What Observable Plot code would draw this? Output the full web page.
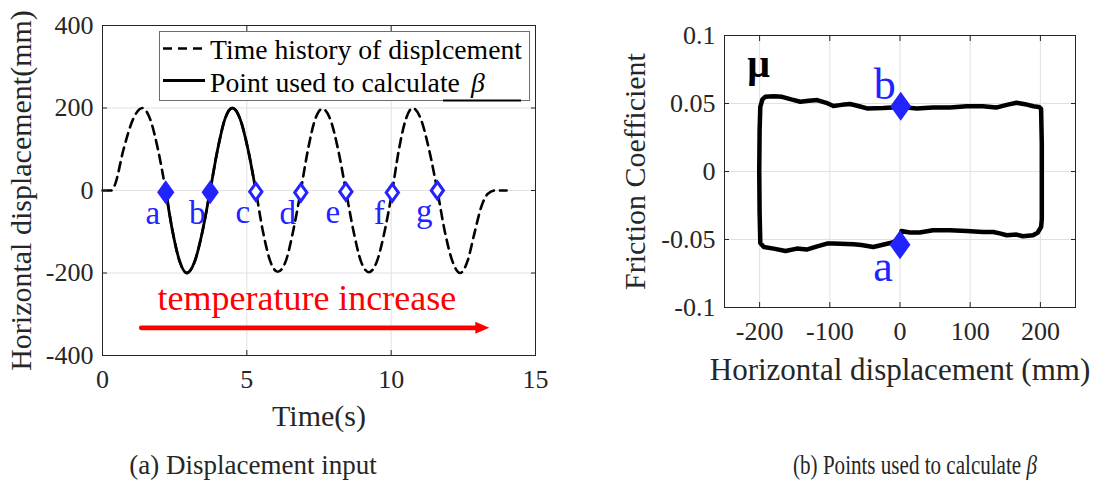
<!DOCTYPE html>
<html><head><meta charset="utf-8">
<script src="https://cdn.jsdelivr.net/npm/d3@7"></script>
<script src="https://cdn.jsdelivr.net/npm/@observablehq/plot@0.6"></script>
<style>
body{margin:0;background:#fff;}
#wrap{position:relative;width:1100px;height:490px;overflow:hidden;font-family:"Liberation Serif",serif;color:#262626;background:#fff;}
.panel{position:absolute;top:0;}
.cap{position:absolute;top:449px;font-size:27px;line-height:32px;text-align:center;width:400px;white-space:nowrap;color:#262626;}
#capb{transform:scaleX(0.78);transform-origin:50% 50%;}
#legend{position:absolute;left:159px;top:31px;}
</style></head><body>
<div id="wrap">
  <div id="left" class="panel" style="left:0px"></div>
  <div id="right" class="panel" style="left:560px"></div>
  <svg id="legend" width="372" height="72" font-family="Liberation Serif, serif" font-size="27.7" fill="#000">
    <rect x="0.5" y="0.5" width="370" height="69" fill="#fff" stroke="#6e6e6e" stroke-width="1"/>
    <line x1="4" x2="46" y1="17.5" y2="17.5" stroke="#000" stroke-width="2.6" stroke-dasharray="9,6"/>
    <text x="51" y="27.5">Time history of displcement</text>
    <line x1="4" x2="46" y1="49.5" y2="49.5" stroke="#000" stroke-width="2.8"/>
    <text x="51" y="61">Point used to calculate <tspan x="312" font-style="italic">β</tspan></text>
    <line x1="284" x2="362" y1="69.5" y2="69.5" stroke="#000" stroke-width="2"/>
  </svg>
  <div class="cap" style="left:53px">(a) Displacement input</div>
  <div class="cap" id="capb" style="left:715px">(b) Points used to calculate <i>β</i></div>
</div>
<script>
// ---------- Panel (a): displacement time history ----------
const timeS = [0, 0.30, 0.42, 0.73, 1.06, 1.385, 1.65, 1.92, 2.19, 2.43, 2.68, 2.92, 3.19, 3.46, 3.73, 3.99, 4.24, 4.50, 4.77, 5.04, 5.31, 5.56, 5.82, 6.07, 6.34, 6.60, 6.87, 7.12, 7.37, 7.62, 7.89, 8.16, 8.43, 8.70, 8.96, 9.23, 9.50, 9.77, 10.04, 10.27, 10.51, 10.74, 11.03, 11.31, 11.60, 11.86, 12.13, 12.39, 12.65, 12.88, 13.12, 13.35, 13.60, 14.0];
const dispMM = [0, 0, 12, 100, 173, 200, 173, 100, 0, -100, -173, -200, -173, -100, 0, 100, 173, 200, 173, 100, 0, -100, -173, -197, -173, -100, 0, 100, 173, 198, 173, 100, 0, -100, -173, -198, -173, -100, 0, 100, 173, 200, 173, 100, 0, -100, -173, -200, -170, -105, -40, -8, 0, 0];
const solidRange = [2.19, 5.31];   // segment drawn solid (points used to calculate beta)

const markerLabels = ["a", "b", "c", "d", "e", "f", "g"];
const markerTimes  = [2.19, 3.73, 5.31, 6.87, 8.43, 10.04, 11.60];
const markerValues = [-4, -4, -3, -5, -3, -5, 0];
const usedPoints   = ["a", "b"];

const xTicksA = [0, 5, 10, 15];
const yTicksA = [-400, -200, 0, 200, 400];
const annotationText = "temperature increase";
const annotationPos  = [7.08, -262];
const arrowFrom = [1.34, -333];
const arrowTo   = [13.40, -333];

// ---------- Panel (b): friction loop ----------
const loopX = [-199, -196, -192, -180, -168, -155, -142, -130, -118, -105, -95, -83, -71, -58, -47, -24, 2, 24, 47, 71, 95, 118, 137, 152, 166, 178, 190, 198, 201,
  202, 202, 202, 201, 196,
  189.5, 175, 166, 152, 142, 133, 118, 95, 71, 47, 28, 14, 2, 0, -14, -38, -55, -66, -95, -104, -118, -133, -147, -163, -180, -194, -199,
  -200, -200.5, -200, -199];
const loopY = [0.0476, 0.053, 0.0549, 0.0554, 0.0549, 0.053, 0.0513, 0.052, 0.0525, 0.0505, 0.0481, 0.049, 0.0496, 0.048, 0.0464, 0.0467, 0.0474, 0.0464, 0.0471, 0.0471, 0.048, 0.048, 0.047, 0.049, 0.0505, 0.0495, 0.048, 0.0475, 0.046,
  0.02, -0.01, -0.035, -0.0408, -0.045,
  -0.0469, -0.0476, -0.0464, -0.0469, -0.0455, -0.0445, -0.0445, -0.0437, -0.0432, -0.0432, -0.0449, -0.0449, -0.0437, -0.05, -0.0526, -0.0555, -0.054, -0.0535, -0.053, -0.053, -0.055, -0.0574, -0.0567, -0.0585, -0.0567, -0.0555, -0.0526,
  -0.03, 0.0, 0.03, 0.0476];
const loopLabels = ["b", "a"];
const loopMarkX  = [1, 0];
const loopMarkY  = [0.048, -0.0539];
const xTicksB = [-200, -100, 0, 100, 200];
const yTicksB = [-0.1, -0.05, 0, 0.05, 0.1];

// ---------- build ----------
const BLUE = "#2323ff";
const INK = "#262626";
const GRID = "#e1e1e1";

const diamond = {draw(ctx, size) {
  const r = Math.sqrt(size / Math.PI);
  ctx.moveTo(0, -r); ctx.lineTo(0.72 * r, 0); ctx.lineTo(0, r); ctx.lineTo(-0.72 * r, 0); ctx.closePath();
}};
const arrowHead = {draw(ctx) {
  ctx.moveTo(0, 0); ctx.lineTo(-14, -6); ctx.lineTo(-14, 6); ctx.closePath();
}};

const series = timeS.map((t, i) => ({t, d: dispMM[i]}));
const solid = series.filter(r => r.t >= solidRange[0] && r.t <= solidRange[1]);
const markers = markerLabels.map((label, i) => ({label, t: markerTimes[i], v: markerValues[i], used: usedPoints.includes(label)}));
const loop = loopX.map((x, i) => ({x, y: loopY[i]}));
const loopMarks = loopLabels.map((label, i) => ({label, x: loopMarkX[i], y: loopMarkY[i]}));

const fmt = d => String(d);
function boxTicks(xt, yt) {
  return [
    Plot.axisX(xt, {anchor: "bottom", tickSize: 5, dy: -5, tickFormat: () => "", label: null, stroke: INK}),
    Plot.axisX(xt, {anchor: "top", tickSize: 5, dy: 5, tickFormat: () => "", label: null, stroke: INK}),
    Plot.axisY(yt, {anchor: "left", tickSize: 5, dx: 5, tickFormat: () => "", label: null, stroke: INK}),
    Plot.axisY(yt, {anchor: "right", tickSize: 5, dx: -5, tickFormat: () => "", label: null, stroke: INK})
  ];
}
const baseStyle = {fontFamily: "Liberation Serif, serif", fontSize: "26px", color: INK, background: "transparent", overflow: "visible"};

const left = Plot.plot({
  width: 560, height: 440,
  marginLeft: 102, marginRight: 25, marginTop: 25, marginBottom: 85,
  style: baseStyle,
  x: {domain: [0, 15]},
  y: {domain: [-400, 400]},
  marks: [
    Plot.gridX(xTicksA, {stroke: GRID, strokeOpacity: 1}),
    Plot.gridY(yTicksA, {stroke: GRID, strokeOpacity: 1}),
    Plot.line(series, {x: "t", y: "d", curve: "monotone-x", stroke: "#000", strokeWidth: 2.6, strokeDasharray: "9,6"}),
    Plot.line(solid, {x: "t", y: "d", curve: "monotone-x", stroke: "#000", strokeWidth: 2.8}),
    Plot.frame({stroke: INK, strokeWidth: 1}),
    ...boxTicks(xTicksA, yTicksA),
    Plot.axisX(xTicksA, {tickSize: 0, tickPadding: 14, label: null, tickFormat: fmt, fill: INK}),
    Plot.axisY(yTicksA, {tickSize: 0, tickPadding: 9, label: null, tickFormat: fmt, fill: INK}),
    Plot.text(["Time(s)"], {frameAnchor: "bottom", dy: 61, fontSize: 30, textAnchor: "middle", lineAnchor: "middle", fill: INK}),
    Plot.text(["Horizontal displacement(mm)"], {frameAnchor: "left", dx: -81, rotate: -90, fontSize: 30, textAnchor: "middle", lineAnchor: "middle", fill: INK}),
    Plot.dot(markers.filter(m => m.used), {x: "t", y: "v", symbol: diamond, r: 12, fill: BLUE, stroke: "none"}),
    Plot.dot(markers.filter(m => !m.used), {x: "t", y: "v", symbol: diamond, r: 8.5, fill: "#fff", stroke: BLUE, strokeWidth: 3}),
    Plot.text(markers, {x: "t", y: "v", text: "label", dx: -13, dy: 21, fontSize: 33, fill: BLUE, lineAnchor: "middle"}),
    Plot.arrow([{x1: arrowFrom[0], y1: arrowFrom[1], x2: arrowTo[0], y2: arrowTo[1]}], {x1: "x1", y1: "y1", x2: "x2", y2: "y2", stroke: "red", strokeWidth: 4.6, headLength: 0, insetEnd: 10}),
    Plot.dot([{x: arrowTo[0], y: arrowTo[1]}], {x: "x", y: "y", symbol: arrowHead, fill: "red", stroke: "none"}),
    Plot.text([annotationText], {x: annotationPos[0], y: annotationPos[1], fontSize: 36, fill: "red", lineAnchor: "middle"})
  ]
});
document.getElementById("left").append(left);

const right = Plot.plot({
  width: 540, height: 440,
  marginLeft: 164, marginRight: 25, marginTop: 35, marginBottom: 133,
  style: baseStyle,
  x: {domain: [-250, 250]},
  y: {domain: [-0.1, 0.1]},
  marks: [
    Plot.gridX(xTicksB, {stroke: GRID, strokeOpacity: 1}),
    Plot.gridY(yTicksB, {stroke: GRID, strokeOpacity: 1}),
    Plot.line(loop, {x: "x", y: "y", curve: "linear", stroke: "#000", strokeWidth: 4.5, strokeLinejoin: "round", strokeLinecap: "round"}),
    Plot.frame({stroke: INK, strokeWidth: 1}),
    ...boxTicks(xTicksB, yTicksB),
    Plot.axisX(xTicksB, {tickSize: 0, tickPadding: 14, label: null, tickFormat: fmt, fill: INK}),
    Plot.axisY(yTicksB, {tickSize: 0, tickPadding: 9, label: null, tickFormat: fmt, fill: INK}),
    Plot.text(["Horizontal displacement (mm)"], {frameAnchor: "bottom", dy: 63, fontSize: 31, textAnchor: "middle", lineAnchor: "middle", fill: INK}),
    Plot.text(["Friction Coefficient"], {frameAnchor: "left", dx: -89, rotate: -90, fontSize: 30, textAnchor: "middle", lineAnchor: "middle", fill: INK}),
    Plot.text(["μ"], {frameAnchor: "top-left", dx: 34, dy: 29, fontSize: 40, fontWeight: "bold", textAnchor: "middle", lineAnchor: "middle", fill: "#000"}),
    Plot.dot(loopMarks, {x: "x", y: "y", symbol: diamond, r: 14.5, fill: BLUE, stroke: "none"}),
    Plot.text(loopMarks.filter(m => m.label === "b"), {x: "x", y: "y", text: "label", dx: -16, dy: -21, fontSize: 44, fill: BLUE, lineAnchor: "middle"}),
    Plot.text(loopMarks.filter(m => m.label === "a"), {x: "x", y: "y", text: "label", dx: -17, dy: 22, fontSize: 44, fill: BLUE, lineAnchor: "middle"})
  ]
});
document.getElementById("right").append(right);
</script>
</body></html>
